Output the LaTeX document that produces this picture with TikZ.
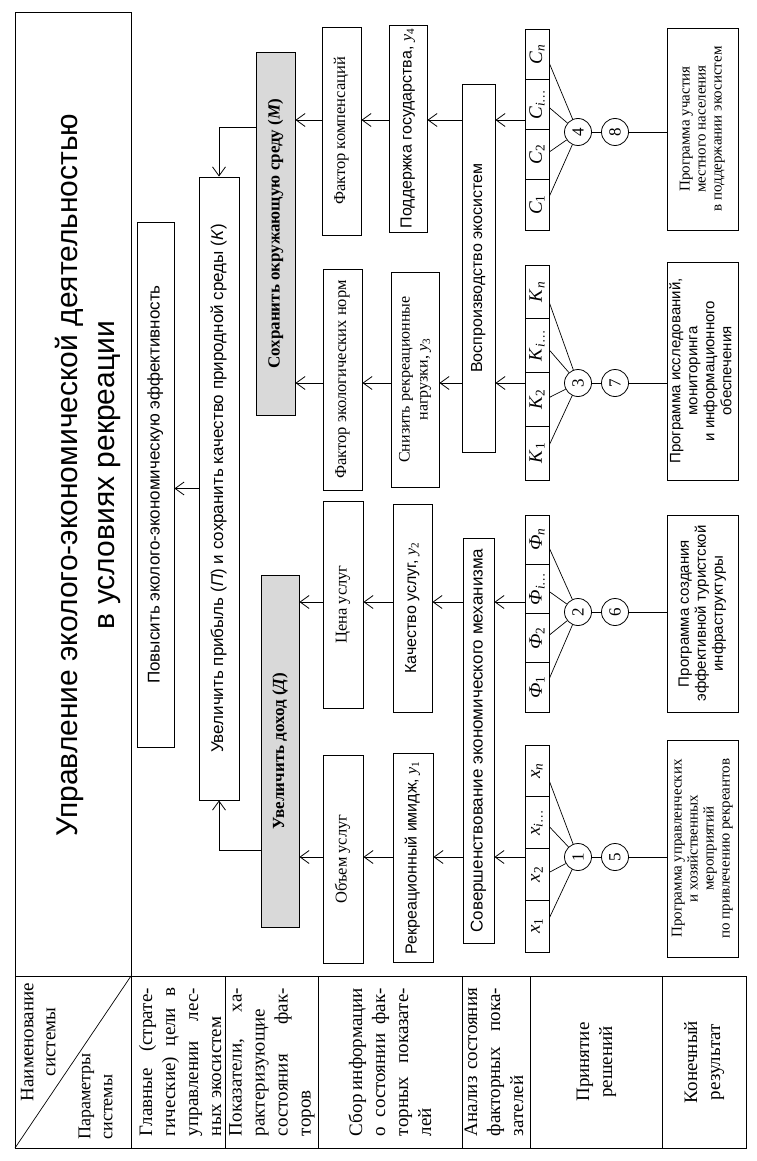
\documentclass[tikz,border=0pt]{standalone}
\usepackage{fontspec}
\setmainfont{Liberation Serif}
\setsansfont{Liberation Sans}
\usepackage{graphicx}
\usetikzlibrary{arrows.meta, calc, positioning}

% rotated text block, lines reading upwards
\newcommand{\rt}[1]{\rotatebox{90}{\begin{tabular}{@{}c@{}}#1\end{tabular}}}
\newcommand{\jl}[1]{\makebox[148pt][s]{#1}\\}
\def\fse{\fontsize{17}{20}\selectfont}
\def\fsa{\sffamily\fontsize{17}{20}\selectfont}
\def\fme{\fontsize{16.5}{18}\selectfont}
\def\fma{\sffamily\fontsize{16}{18}\selectfont}
\def\fpe{\fontsize{15}{16}\selectfont}
\def\fpa{\sffamily\fontsize{15}{17}\selectfont}
\def\fle{\fontsize{19}{23}\selectfont}

\begin{document}
\begin{tikzpicture}[x=1pt,y=-1pt]

\tikzstyle{box}  = [draw, line width=0.9pt, inner sep=0pt, align=center]
\tikzstyle{goal} = [box, fill=black!15, font=\fse\bfseries]
\tikzstyle{boxe} = [box, font=\fme]
\tikzstyle{boxa} = [box, font=\fma]
\tikzstyle{cell} = [draw, line width=0.8pt, inner sep=0pt, font=\fle]
\tikzstyle{num}  = [draw, circle, line width=0.8pt, minimum size=27pt, inner sep=0pt, font=\fontsize{17}{20}\selectfont]
\tikzstyle{arr}  = [-{Straight Barb[length=9pt,width=13pt]}, line width=0.8pt]
\tikzstyle{link} = [line width=0.7pt]

\useasboundingbox (0,0) rectangle (756,1161);

% table frame
\draw[line width=0.9pt] (15,12) rectangle (131,976);
\draw[line width=0.9pt] (15,976) rectangle (746,1148);
\foreach \x in {131,225,318,462,530,662}
  \draw[line width=0.9pt] (\x,976) -- (\x,1148);
\draw[line width=0.7pt] (15,1148) -- (131,976);

\node[font=\sffamily\fontsize{30}{37}\selectfont] (title) at (89,475)
  {\rt{Управление эколого-экономической деятельностью\\в условиях рекреации}};

% row heads
\node[font=\fontsize{19}{22}\selectfont] (naim) at (40,1042) {\rt{Наименование\\системы}};
\node[font=\fontsize{18}{22}\selectfont, anchor=south] (param) at (97,1143)
  {\rotatebox{90}{\begin{tabular}{@{}l@{}}Параметры\\системы\end{tabular}}};

\def\lc#1#2#3{\node[font=\fle] (#1) at (#2,1062) {\rotatebox{90}{\parbox{148pt}{#3}}};}
\lc{h1}{180}{\jl{Главные (страте-}\jl{гические) цели в}\jl{управлении лес-}ных экосистем}
\lc{h2}{272}{\jl{Показатели, ха-}рактеризующие\\\jl{состояния фак-}торов}
\lc{h3}{390}{\jl{Сбор информации}\jl{о состоянии фак-}\jl{торных показате-}лей}
\lc{h4}{494}{\jl{Анализ состояния}\jl{факторных пока-}зателей}
\node[font=\fle] (h5) at (596,1062) {\rt{Принятие\\решений}};
\node[font=\fle] (h6) at (704,1062) {\rt{Конечный\\результат}};

% boxes: style, x1, y1, x2, y2, name, text
\def\bx#1#2#3#4#5#6#7{\node[#1, minimum width={#4-#2}, minimum height={#5-#3}] (#6)
  at ({(#2+#4)/2},{(#3+#5)/2}) {\rt{#7}};}

\bx{box,font=\fsa}{137}{222}{174}{747}{povys}{Повысить эколого-экономическую эффективность}
\bx{box,font=\fsa}{199}{177}{239}{800}{pribyl}{Увеличить прибыль (\textit{П}) и сохранить качество природной среды (\textit{К})}
\bx{goal}{256}{52}{295}{415}{mbox}{Сохранить окружающую среду (\textit{М})}
\bx{goal}{261}{575}{299}{927}{dbox}{Увеличить доход (\textit{Д})}

\bx{boxe}{322}{27}{361}{235}{komp}{Фактор компенсаций}
\bx{boxe}{323}{269}{362}{490}{ekol}{Фактор экологических норм}
\bx{boxe}{323}{501}{363}{708}{cena}{Цена услуг}
\bx{boxe}{323}{755}{363}{963}{obem}{Объем услуг}

\bx{boxa}{389}{25}{427}{232}{podd}{Поддержка государства, {\rmfamily\textit{y}\textsubscript{4}}}
\bx{box,font=\fontsize{16}{18}\selectfont}{391}{272}{439}{487}{sniz}{Снизить рекреационные\\нагрузки, \textit{y}\textsubscript{3}}
\bx{boxa}{393}{504}{432}{712}{kach}{Качество услуг, {\rmfamily\textit{y}\textsubscript{2}}}
\bx{boxa}{393}{753}{433}{962}{imij}{Рекреационный имидж, {\rmfamily\textit{y}\textsubscript{1}}}

\bx{boxa}{462}{84}{495}{452}{vosp}{Воспроизводство экосистем}
\bx{box,font=\fsa}{463}{538}{494}{943}{sov}{Совершенствование экономического механизма}

\bx{box,font=\fpe}{667}{740}{738}{957}{p1}{Программа управленческих\\и хозяйственных\\мероприятий\\по привлечению рекреантов}
\bx{box,font=\fpa}{667}{515}{738}{712}{p2}{Программа создания\\эффективной туристской\\инфраструктуры}
\bx{box,font=\fpa}{667}{262}{738}{480}{p3}{Программа исследований,\\мониторинга\\и информационного\\обеспечения}
\bx{box,font=\fpe}{667}{28}{738}{230}{p4}{Программа участия\\местного населения\\в поддержании экосистем}

% factor cells: name, top, bottom, letter
\def\cellrow#1#2#3#4{
\foreach \k/\s in {1/1, 2/2, 3/{\textit{i}…}, 4/\textit{n}} {
  \pgfmathsetmacro\h{(#3-#2)/4}
  \pgfmathsetmacro\yc{#3-(\k-0.5)*\h}
  \node[cell, minimum width=24, minimum height=\h] (#1\k) at (537,\yc)
    {\rotatebox{90}{\textit{#4}\textsubscript{\s}}};
}}
\cellrow{x}{745}{952}{x}
\cellrow{f}{515}{712}{Ф}
\cellrow{k}{265}{480}{K}
\cellrow{c}{29}{230}{C}

\node[num] (n1) at (578,857) {\rotatebox{90}{1}};
\node[num] (n5) at (615,857) {\rotatebox{90}{5}};
\node[num] (n2) at (578,612) {\rotatebox{90}{2}};
\node[num] (n6) at (615,612) {\rotatebox{90}{6}};
\node[num] (n3) at (578,383) {\rotatebox{90}{3}};
\node[num] (n7) at (615,383) {\rotatebox{90}{7}};
\node[num] (n4) at (578,132) {\rotatebox{90}{4}};
\node[num] (n8) at (615,132) {\rotatebox{90}{8}};

\foreach \r/\a/\b/\p in {x/n1/n5/p1, f/n2/n6/p2, k/n3/n7/p3, c/n4/n8/p4} {
  \foreach \k in {1,...,4}
    \draw[link] ($(\r\k.east)!0.12!(\r\k.east |- \a)$) -- (\a);
  \draw[link] (\a) -- (\b);
  \draw[link] (\b) -- (\p.west |- \b);
}

% arrows
\coordinate (lvC) at (0,120);
\coordinate (lvK) at (0,383);
\coordinate (lvF) at (0,602);
\coordinate (lvX) at (0,857);
\coordinate (lvM) at (0,127);
\coordinate (lvD) at (0,850);

\foreach \a/\b in {c1/vosp, vosp/podd, podd/komp, komp/mbox}
  \draw[arr] (\a.west |- lvC) -- (\b.east |- lvC);
\foreach \a/\b in {k1/vosp, vosp/sniz, sniz/ekol, ekol/mbox}
  \draw[arr] (\a.west |- lvK) -- (\b.east |- lvK);
\foreach \a/\b in {f1/sov, sov/kach, kach/cena, cena/dbox}
  \draw[arr] (\a.west |- lvF) -- (\b.east |- lvF);
\foreach \a/\b in {x1/sov, sov/imij, imij/obem, obem/dbox}
  \draw[arr] (\a.west |- lvX) -- (\b.east |- lvX);

\draw[arr] (mbox.west |- lvM) -| (pribyl.north);
\draw[arr] (dbox.west |- lvD) -| (pribyl.south);
\draw[arr] (pribyl.west) -- (povys.east |- pribyl.west);

\end{tikzpicture}
\end{document}
